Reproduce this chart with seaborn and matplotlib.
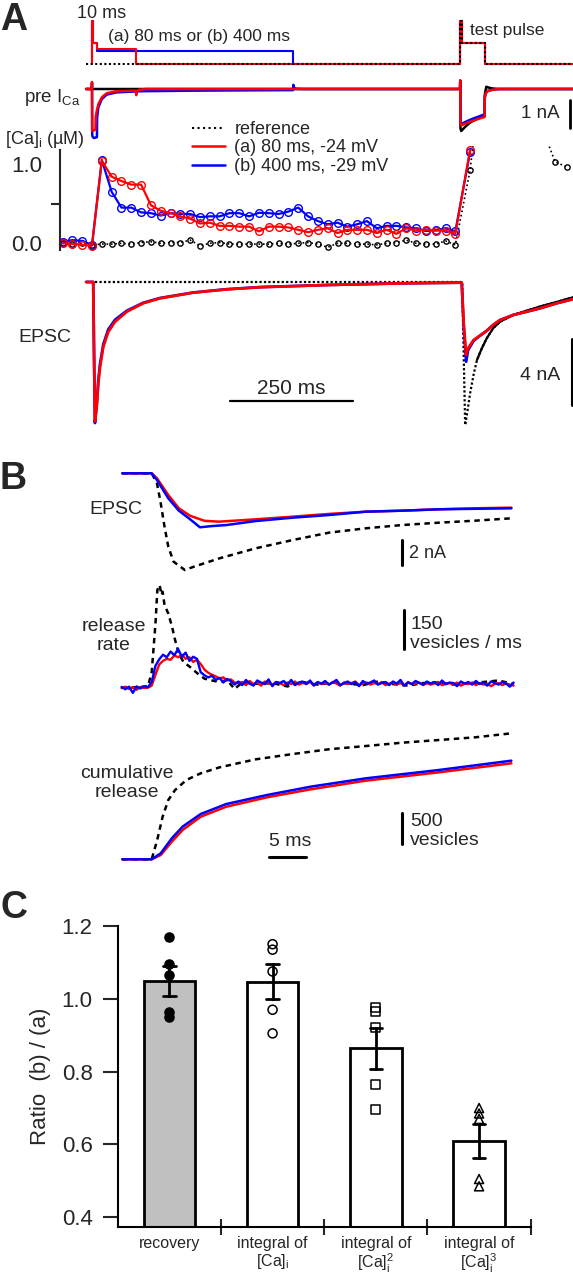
import numpy as np
import pandas as pd
import matplotlib
matplotlib.use('Agg')
import matplotlib.pyplot as plt
import seaborn as sns
from matplotlib.lines import Line2D

sns.set_style('white')
plt.rcParams['font.family'] = ['Liberation Sans', 'DejaVu Sans']
plt.rcParams['mathtext.fontset'] = 'custom'
plt.rcParams['mathtext.rm'] = 'Liberation Sans'
plt.rcParams['mathtext.it'] = 'Liberation Sans:italic'
plt.rcParams['mathtext.bf'] = 'Liberation Sans:bold'

RED = '#ff0000'
BLUE = '#0000ff'
W, H = 573, 1280

# ---------------- panel A data (time in ms) ----------------
# command voltage, mV
prot_t_a = [0, 0, 3, 10, 90, 750, 753, 800, 980]
prot_v_a = [-80, 80, 0, -24, -80, 80, 0, -80, -80]
prot_t_b = [0, 0, 3, 10, 410, 750, 753, 800, 980]
prot_v_b = [-80, 80, 0, -29, -80, 80, 0, -80, -80]
prot_t_ref = [-12, 750, 753, 800, 980]
prot_v_ref = [-80, 80, 0, -80, -80]

# presynaptic Ca current, nA
ica_t_a = [-12, -0.5, 0, 0.4, 1, 7, 7.5, 10, 13, 20, 30, 50, 89.5, 90, 91, 95, 110,
           749.5, 750, 750.4, 752, 760, 770, 780, 790, 799.5, 800, 802, 806, 815, 830, 980]
ica_v_a = [0, 0, 0.25, -1.45, -1.5, -1.45, -1.0, -0.75, -0.54, -0.3, -0.15, -0.08, -0.06, -0.22, -0.1, -0.03, 0,
           0, 0.3, -1.2, -1.3, -1.24, -1.17, -1.11, -1.05, -1.0, -0.3, -0.15, -0.07, -0.03, 0, 0]
ica_t_b = [-12, -0.5, 0, 0.4, 1, 4, 10, 10.5, 13, 20, 30, 50, 100, 200, 300, 409.5, 410, 411, 415, 430,
           749.5, 750, 750.4, 752, 760, 770, 780, 790, 799.5, 800, 802, 806, 815, 830, 980]
ica_v_b = [0, 0, 0.2, -1.6, -1.7, -1.75, -1.72, -1.0, -0.65, -0.36, -0.2, -0.12, -0.08, -0.06, -0.05, -0.04, 0.15, 0.05, 0.01, 0,
           0, 0.3, -1.15, -1.25, -1.18, -1.1, -1.03, -0.97, -0.9, -0.3, -0.15, -0.07, -0.03, 0, 0]
ica_t_ref = [-12, 749.5, 750, 750.4, 752, 760, 770, 780, 790, 799.5, 800, 803, 808, 815, 830, 980]
ica_v_ref = [0, 0, 0.3, -1.4, -1.5, -1.35, -1.2, -1.1, -1.02, -0.97, -0.2, 0.08, 0.05, 0.02, 0, 0]

# [Ca]i, uM, sampled every 20 ms, plus the point after the test pulse
ca_t = list(np.arange(-60, 741, 20)) + [770]
ca_a = [0.0, -0.01, -0.02, -0.03, 1.04, 0.84, 0.785, 0.74, 0.74, 0.48, 0.41, 0.38, 0.34, 0.31, 0.25,
        0.26, 0.22, 0.22, 0.21, 0.21, 0.15, 0.21, 0.21, 0.20, 0.17, 0.14, 0.17, 0.19, 0.13, 0.17,
        0.17, 0.17, 0.13, 0.17, 0.12, 0.19, 0.16, 0.17, 0.16, 0.16, 0.12, 1.18]
ca_b = [0.02, 0.04, 0.03, -0.02, 1.05, 0.65, 0.45, 0.45, 0.39, 0.38, 0.35, 0.38, 0.37, 0.37, 0.33,
        0.34, 0.34, 0.38, 0.38, 0.34, 0.385, 0.38, 0.37, 0.40, 0.45, 0.34, 0.28, 0.24, 0.26, 0.21,
        0.24, 0.28, 0.19, 0.22, 0.22, 0.20, 0.19, 0.155, 0.165, 0.19, 0.15, 1.15]
ca_t_ref = ca_t + [790, 914, 943, 967]
ca_ref = [0.0, -0.01, 0.0, -0.02, -0.01, -0.01, 0.0, -0.01, 0.01, 0.02, 0.0, 0.01, 0.01, 0.04, -0.03,
          0.0, 0.01, -0.01, -0.01, -0.01, -0.01, -0.01, 0.0, -0.01, 0.0, 0.01, -0.01, -0.05, 0.0, 0.0,
          -0.01, -0.01, -0.02, 0.0, 0.01, 0.04, 0.0, -0.01, -0.01, 0.03, -0.02, 0.92, 2.0, 1.5, 1.03, 0.96]

# postsynaptic EPSC, nA
epsc_t = [-12, 2.5, 4, 6, 9.6, 12.8, 16.3, 23, 33, 47, 71, 104, 138, 206, 274, 342, 483, 631, 749, 753,
          757, 762, 766, 777, 787, 797, 804, 817, 831, 858, 885, 912, 946, 980]
epsc_a = [0, 0, -4, -8.5, -7.6, -6.2, -5.2, -3.96, -3.05, -2.42, -1.81, -1.3, -1.0, -0.65, -0.45, -0.32, -0.18,
          -0.08, -0.04, -0.04, -2.5, -4.45, -4.04, -3.54, -3.33, -3.13, -2.97, -2.62, -2.32, -2.01, -1.81,
          -1.61, -1.30, -1.04]
epsc_b = [0, 0, -4, -8.6, -7.5, -6.0, -5.0, -3.8, -2.9, -2.3, -1.75, -1.27, -0.98, -0.64, -0.44, -0.31, -0.18,
          -0.08, -0.04, -0.04, -2.7, -4.86, -4.15, -3.6, -3.35, -3.12, -2.97, -2.62, -2.32, -2.01, -1.81,
          -1.61, -1.30, -1.04]
epsc_t_ref = [-12, 750, 754, 756, 760, 763, 770, 777, 784, 794, 804, 817, 831, 858, 885, 912, 946, 980]
epsc_ref = [0, 0, 0, -3, -8.72, -8.2, -6.8, -5.67, -4.76, -4.04, -3.43, -2.82, -2.42, -2.01, -1.75, -1.5,
            -1.22, -0.93]

# ---------------- panel B data (time in ms from test pulse EPSC onset) ----------------
epscB_t_a = [-3.9, 0, 0.7, 2.2, 3.6, 5.1, 7.0, 8.9, 13.8, 18.7, 23.5, 28.4, 33.2, 38.1, 42.9, 47.7]
epscB_a = [0, 0, -0.4, -1.74, -2.8, -3.4, -3.8, -3.87, -3.68, -3.47, -3.25, -3.07, -2.99, -2.88, -2.8, -2.75]
epscB_t_b = [-3.9, 0, 0.7, 2.2, 3.6, 5.1, 6.4, 8.0, 9.9, 13.8, 18.7, 23.5, 28.4, 33.2, 38.1, 42.9, 47.7]
epscB_b = [0, 0, -0.54, -2.0, -2.99, -3.68, -4.32, -4.22, -4.14, -3.82, -3.55, -3.34, -3.07, -2.99, -2.88,
           -2.84, -2.8]
epscB_t_ref = [-3.9, 0, 0.7, 1.2, 1.7, 2.2, 2.9, 4.4, 5.6, 9.0, 13.8, 18.7, 23.5, 28.4, 33.2, 38.1, 42.9, 47.7]
epscB_ref = [0, 0, -0.8, -2.4, -4.27, -5.87, -7.07, -7.74, -7.47, -6.8, -6.0, -5.34, -4.75, -4.4, -4.14,
             -3.95, -3.79, -3.6]

# release rate, vesicles / ms, every 0.5 ms
rate_t = np.arange(-4.0, 48.01, 0.5)
rate_b = [3, -6, 4, -20, 5, -3, 6, 2, 22, 85, 110, 128, 118, 140, 126, 150, 120, 136, 104, 120,
          112, 60, 48, 40, 46, 30, 38, 20, 34, 26, 12,
          24, 10, 30, 16, 8, 28, 20, 14, 32, 6, 22, 18, 26, 12, 30, 10, 20, 24, 14, 28,
          8, 22, 16, 26, 12, 20, 30, 10, 18, 24, 14, 22, 6, 26, 16, 20, 28, 12, 18, 22,
          10, 24, 16, 30, 8, 20, 14, 26, 18, 12, 24, 16, 22, 10, 28, 14, 20, 18, 6, 24,
          16, 22, 12, 26, 14, 20, 8, 24, 18, 12, 22, 16, 4, 20]
rate_a = [-2, 4, -5, 2, -8, 3, -1, 0, 8, 50, 90, 104, 112, 108, 125, 118, 128, 112, 118, 100,
          108, 92, 70, 58, 50, 44, 36, 40, 28, 32, 20,
          18, 22, 10, 26, 14, 20, 8, 24, 16, 12, 22, 18, 10, 20, 14, 24, 12, 18, 16, 22,
          10, 20, 14, 18, 12, 22, 16, 8, 20, 14, 18, 24, 10, 16, 20, 12, 18, 14, 22, 10,
          16, 20, 12, 18, 8, 22, 14, 16, 20, 10, 18, 12, 16, 22, 10, 14, 18, 12, 20, 8,
          16, 14, 20, 10, 18, 12, 16, 6, 14, 18, 10, 16, 12, 8]
rate_t_ref = [-4, -2, -0.5, 0, 0.5, 0.75, 1.05, 1.3, 1.45, 1.7, 2.2, 2.7, 3.1, 3.6, 4.2, 5.1, 6.0, 7.0, 8, 9,
              10, 11, 12, 14, 16, 18, 20, 22, 24, 26, 28, 30, 32, 34, 36, 38, 40, 42, 44, 46, 48]
rate_ref = [0, 2, 5, 60, 249, 379, 398, 360, 372, 320, 288, 236, 185, 133, 100, 80, 57, 35, 28, 22,
            30, -5, 20, 15, 18, 5, 22, 12, 20, 16, 10, 24, 14, 8, 18, 20, 12, 16, 22, 28, 14]

# cumulative release, vesicles
cum_t = [-3.9, 0, 1.2, 2.67, 4.1, 6.5, 9.9, 15.3, 21.1, 28.4, 38.1, 47.7]
cum_a = [0, 0, 70, 288, 478, 695, 858, 1011, 1142, 1283, 1419, 1566]
cum_b = [0, 0, 98, 343, 533, 739, 902, 1049, 1185, 1321, 1457, 1609]
cum_t_ref = [-3.9, 0, 0.73, 1.45, 2.2, 3.1, 4.6, 6.5, 9.0, 13.8, 18.7, 23.5, 28.4, 33.2, 38.1, 42.9, 47.7]
cum_ref = [0, 0, 315, 695, 967, 1130, 1294, 1403, 1500, 1631, 1717, 1795, 1848, 1902, 1946, 1990, 2055]

# ---------------- panel C data ----------------
c_measures = ['recovery', 'integral of\n[Ca]$_\\mathrm{i}$',
              'integral of\n[Ca]$_\\mathrm{i}^2$', 'integral of\n[Ca]$_\\mathrm{i}^3$']
c_recovery = [1.17, 1.095, 1.065, 0.965, 0.95]
c_int1 = [1.15, 1.135, 1.075, 0.97, 0.905]
c_int2 = [0.975, 0.965, 0.92, 0.765, 0.695]
c_int3 = [0.70, 0.685, 0.67, 0.505, 0.485]
c_markers = ['o', 'o', 's', '^']
c_filled = [True, False, False, False]
c_colors = ['#c0c0c0', 'white', 'white', 'white']

# ---------------- figure ----------------
fig = plt.figure(figsize=(W / 100, H / 100), dpi=100)
fig.patch.set_facecolor('white')


def px_axes(left, top, right, bottom):
    return fig.add_axes([left / W, 1 - bottom / H, (right - left) / W, (bottom - top) / H])


def trace_ax(top, bottom, zero_px, ppu, t0_px, ppms, offset=0.0, left=0, right=W, off=True):
    ax = px_axes(left, top, right, bottom)
    ax.set_xlim((left - t0_px) / ppms, (right - t0_px) / ppms)
    ax.set_ylim(offset + (zero_px - bottom) / ppu, offset + (zero_px - top) / ppu)
    ax.patch.set_alpha(0)
    if off:
        ax.axis('off')
    return ax


def trace(ax, t, v, color, lw=1.8, **kw):
    sns.lineplot(x=list(t), y=list(v), ax=ax, color=color, lw=lw, estimator=None, sort=False, **kw)


def ftext(x, y, s, **kw):
    fig.text(x / W, 1 - y / H, s, **kw)


A0, AS = 92, 0.491     # px of t=0, px per ms (panel A)
B0, BS = 151.7, 7.54   # panel B

# protocol
ax_p = trace_ax(5, 75, 64.3, 0.27, A0, AS, offset=-80)
trace(ax_p, prot_t_b, prot_v_b, BLUE, lw=1.5, drawstyle='steps-post')
trace(ax_p, prot_t_a, prot_v_a, RED, lw=1.5, drawstyle='steps-post')
trace(ax_p, prot_t_ref, prot_v_ref, 'black', lw=1.5, drawstyle='steps-post', linestyle=(0, (1, 1.2)))

# I_Ca
ax_i = trace_ax(66, 150, 89, 28, A0, AS)
trace(ax_i, ica_t_ref, ica_v_ref, 'black', lw=1.8)
trace(ax_i, ica_t_b, ica_v_b, BLUE, lw=1.8)
trace(ax_i, ica_t_a, ica_v_a, RED, lw=1.8)
ax_i.plot([973.5, 973.5], [-0.4, -1.4], color='black', lw=2)

# [Ca]i
ax_c = trace_ax(146, 262, 243.3, 79.3, A0, AS, left=60, off=False)
mk = dict(marker='o', markersize=5.5, markerfacecolor='none', markeredgewidth=1.0)
trace(ax_c, ca_t_ref, ca_ref, 'black', lw=1.2, linestyle=':', marker='o', markersize=3.8,
      markerfacecolor='none', markeredgecolor='black', markeredgewidth=1.0)
trace(ax_c, ca_t, ca_b, BLUE, lw=1.6, markeredgecolor=BLUE, **mk)
trace(ax_c, ca_t, ca_a, RED, lw=1.6, markeredgecolor=RED, **mk)
for s in ['top', 'right', 'bottom']:
    ax_c.spines[s].set_visible(False)
ax_c.spines['left'].set_linewidth(1.5)
ax_c.spines['left'].set_bounds(-0.085, 1.18)
ax_c.xaxis.set_visible(False)
ax_c.set_yticks([0, 1])
ax_c.set_yticklabels(['0.0', '1.0'])
ax_c.set_yticks([0.5], minor=True)
ax_c.tick_params(axis='y', which='major', direction='out', length=10, width=1.5, pad=3, labelsize=16)
ax_c.tick_params(axis='y', which='minor', direction='out', length=6.5, width=1.5, left=True)
ax_c.set_ylabel('')

leg_handles = [Line2D([], [], color='black', lw=1.5, linestyle=':'),
               Line2D([], [], color=RED, lw=1.8),
               Line2D([], [], color=BLUE, lw=1.8)]
fig.legend(leg_handles, ['reference', '(a) 80 ms, -24 mV', '(b) 400 ms, -29 mV'],
           loc='upper left', bbox_to_anchor=(192 / W, 1 - 121 / H), frameon=False, fontsize=13,
           handlelength=1.85, handletextpad=0.5, labelspacing=0.08, borderpad=0, borderaxespad=0)

# EPSC
ax_e = trace_ax(265, 440, 282, 16.4, A0, AS)
trace(ax_e, epsc_t_ref, epsc_ref, 'black', lw=1.6, linestyle=(0, (1, 1)))
trace(ax_e, [t for t in epsc_t_ref if t >= 784], [v for t, v in zip(epsc_t_ref, epsc_ref) if t >= 784],
      'black', lw=1.6)
trace(ax_e, epsc_t, epsc_b, BLUE, lw=2.0)
trace(ax_e, epsc_t, epsc_a, RED, lw=2.0)
ax_e.plot([281, 531], [-7.24, -7.24], color='black', lw=1.6)
ax_e.plot([977, 977], [-3.49, -7.49], color='black', lw=2.2)

# panel B
ax_be = trace_ax(450, 590, 473.3, 12.5, B0, BS)
trace(ax_be, epscB_t_ref, epscB_ref, 'black', lw=1.8, linestyle=(0, (2.2, 1.8)))
trace(ax_be, epscB_t_a, epscB_a, RED, lw=1.8)
trace(ax_be, epscB_t_b, epscB_b, BLUE, lw=1.8)
ax_be.plot([33.2, 33.2], [-5.34, -7.34], color='black', lw=2.2)

ax_r = trace_ax(570, 712, 687.7, 0.258, B0, BS)
trace(ax_r, rate_t_ref, rate_ref, 'black', lw=1.8, linestyle=(0, (2.2, 1.8)))
trace(ax_r, rate_t, rate_a, RED, lw=1.7)
trace(ax_r, rate_t, rate_b, BLUE, lw=1.7)
ax_r.plot([33.4, 33.4], [150, 300], color='black', lw=2.2)

ax_cu = trace_ax(700, 880, 859.3, 0.0613, B0, BS)
trace(ax_cu, cum_t_ref, cum_ref, 'black', lw=1.8, linestyle=(0, (2.2, 1.8)))
trace(ax_cu, cum_t, cum_a, RED, lw=1.8)
trace(ax_cu, cum_t, cum_b, BLUE, lw=1.8)
ax_cu.plot([33.2, 33.2], [250, 750], color='black', lw=2.2)
ax_cu.plot([15.5, 20.5], [42, 42], color='black', lw=2.2)

# panel C
rows = []
for name, vals in zip(c_measures, [c_recovery, c_int1, c_int2, c_int3]):
    rows += [(name, v) for v in vals]
df_c = pd.DataFrame(rows, columns=['measure', 'ratio'])

ax_k = px_axes(117.7, 926, 530.7, 1226.7)
sns.barplot(data=df_c, x='measure', y='ratio', hue='measure', palette=c_colors, order=c_measures,
            hue_order=c_measures, errorbar='se', capsize=0.12, err_kws={'color': 'black', 'linewidth': 2},
            edgecolor='black', linewidth=2, width=0.5, legend=False, ax=ax_k)
for i, name in enumerate(c_measures):
    sub = df_c[df_c['measure'] == name]
    n_before = len(ax_k.collections)
    sns.stripplot(data=sub, x='measure', y='ratio', order=c_measures, jitter=False, marker=c_markers[i],
                  size=6.5, color='black', linewidth=1.1, edgecolor='black', ax=ax_k, zorder=5)
    for pts in ax_k.collections[n_before:]:
        if not c_filled[i]:
            pts.set_facecolor('none')
        pts.set_edgecolor('black')
ax_k.set_xlim(-0.5, 3.5)
ax_k.set_ylim(0.374, 1.2)
ax_k.set_yticks([0.4, 0.6, 0.8, 1.0, 1.2])
ax_k.set_yticklabels(['0.4', '0.6', '0.8', '1.0', '1.2'])
ax_k.tick_params(axis='y', direction='out', length=11, width=1.5, labelsize=16, pad=7, left=True)
ax_k.set_xticks([0, 1, 2, 3])
ax_k.set_xticklabels(c_measures, linespacing=1.05)
ax_k.set_xticks([0.5, 1.5, 2.5, 3.5], minor=True)
ax_k.tick_params(axis='x', which='major', length=0, labelsize=11.5, pad=7)
ax_k.tick_params(axis='x', which='minor', direction='inout', length=12, width=1.5, bottom=True)
ax_k.set_xlabel('')
ax_k.set_ylabel('Ratio  (b) / (a)', fontsize=16, labelpad=8)
sns.despine(ax=ax_k)
for s in ['left', 'bottom']:
    ax_k.spines[s].set_linewidth(1.5)
    ax_k.spines[s].set_color('black')

# ---------------- text ----------------
ftext(0, 20, 'A', fontsize=27, fontweight='bold', va='center')
ftext(0, 479, 'B', fontsize=27, fontweight='bold', va='center')
ftext(0, 908, 'C', fontsize=27, fontweight='bold', va='center')

ftext(77, 14, '10 ms', fontsize=13, va='center')
ftext(108, 37, '(a) 80 ms or (b) 400 ms', fontsize=12.5, va='center')
ftext(470, 31, 'test pulse', fontsize=12.5, va='center')
ftext(24, 98, 'pre I$_\\mathrm{Ca}$', fontsize=13.5, va='center')
ftext(521, 114, '1 nA', fontsize=13.5, va='center')
ftext(5, 140, '[Ca]$_\\mathrm{i}$ (µM)', fontsize=13, va='center')
ftext(18, 337, 'EPSC', fontsize=14, va='center')
ftext(291, 388, '250 ms', fontsize=15, va='center', ha='center')
ftext(520, 375, '4 nA', fontsize=14, va='center')

ftext(89, 510, 'EPSC', fontsize=14, va='center')
ftext(409, 553, '2 nA', fontsize=13, va='center')
ftext(114, 636, 'release\nrate', fontsize=14, va='center', ha='center')
ftext(410, 634, '150\nvesicles / ms', fontsize=14, va='center', linespacing=1.1)
ftext(127, 783, 'cumulative\nrelease', fontsize=14, va='center', ha='center')
ftext(410, 831, '500\nvesicles', fontsize=14, va='center', linespacing=1.1)
ftext(290, 841, '5 ms', fontsize=14, va='center', ha='center')

fig.savefig('out.png', dpi=100, facecolor='white')
